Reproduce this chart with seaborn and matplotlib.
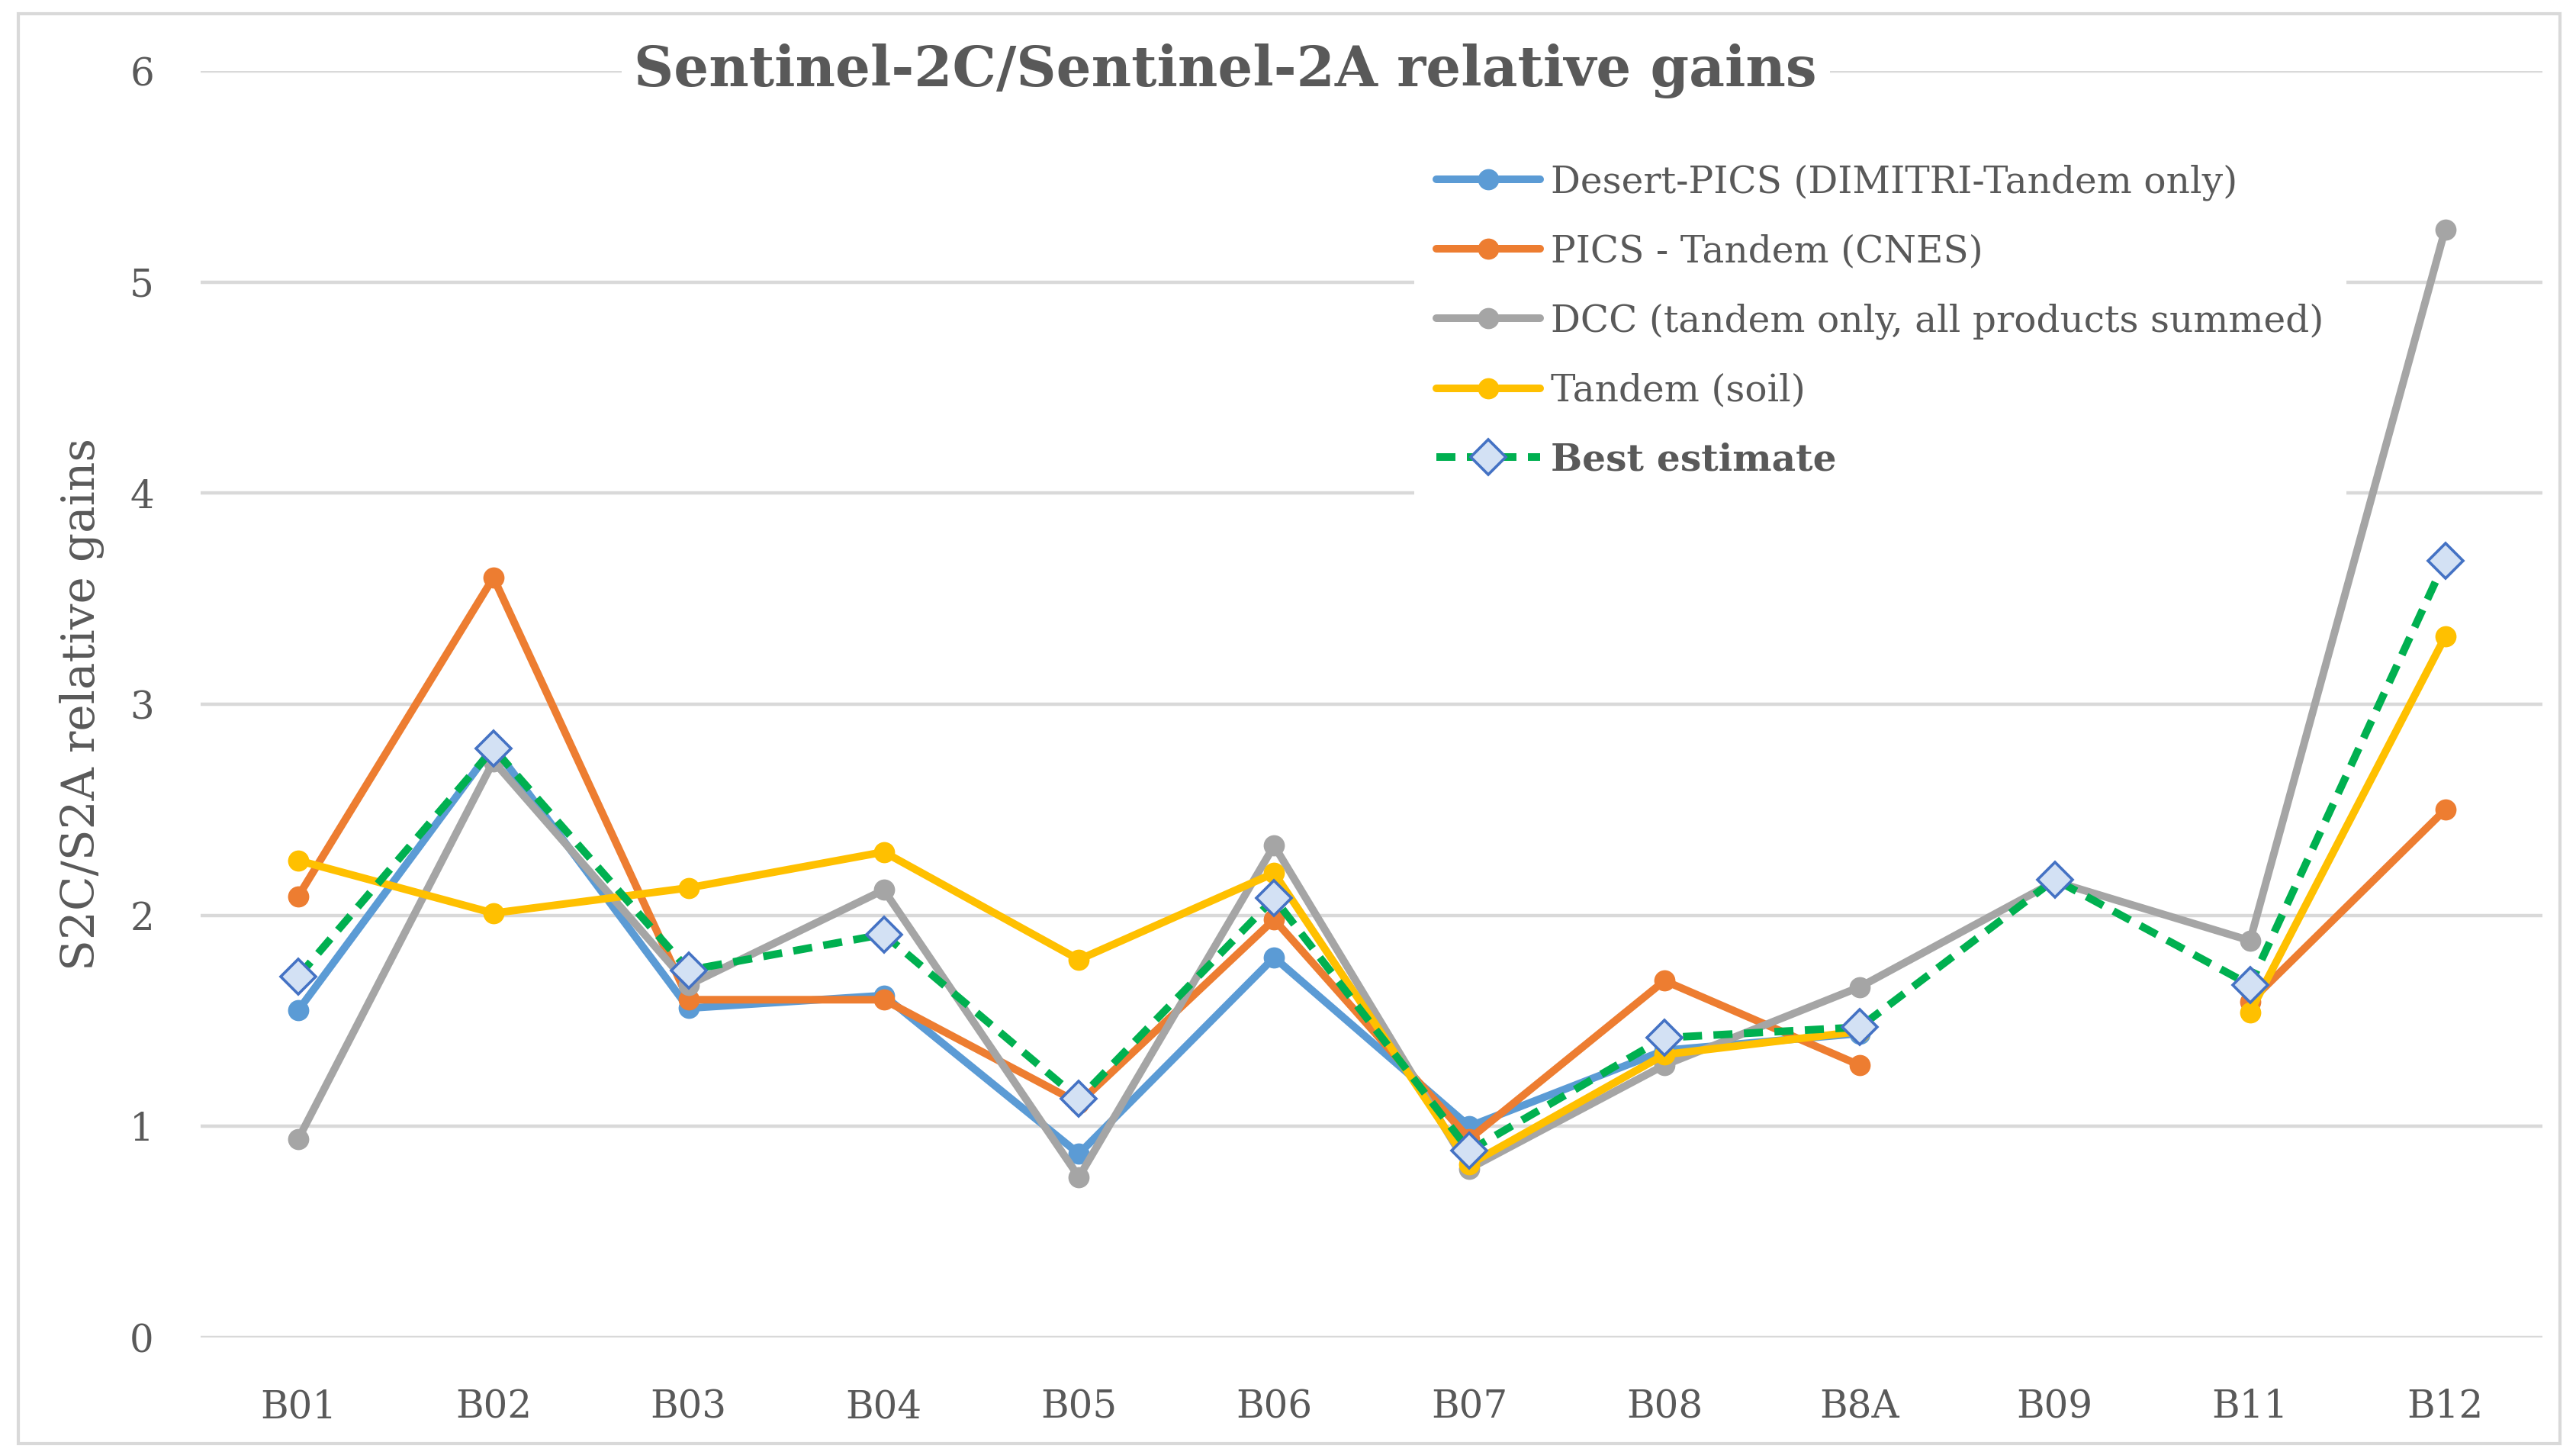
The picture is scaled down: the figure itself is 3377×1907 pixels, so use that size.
import numpy as np
import pandas as pd
import matplotlib
matplotlib.use("Agg")
import matplotlib.pyplot as plt
import seaborn as sns
from matplotlib.patches import Rectangle

# ---------------- data ----------------
bands = ["B01", "B02", "B03", "B04", "B05", "B06", "B07", "B08", "B8A", "B09", "B11", "B12"]
desert_pics = [1.55, 2.80, 1.56, 1.62, 0.87, 1.80, 1.00, 1.36, 1.44, np.nan, np.nan, np.nan]
pics_cnes = [2.09, 3.60, 1.60, 1.60, 1.11, 1.98, 0.94, 1.69, 1.29, np.nan, 1.59, 2.50]
dcc = [0.94, 2.73, 1.67, 2.12, 0.76, 2.33, 0.80, 1.29, 1.66, 2.16, 1.88, 5.25]
tandem_soil = [2.26, 2.01, 2.13, 2.30, 1.79, 2.20, 0.82, 1.34, 1.45, np.nan, 1.54, 3.32]
best_estimate = [1.71, 2.79, 1.74, 1.91, 1.13, 2.08, 0.885, 1.42, 1.47, 2.17, 1.67, 3.68]

series_names = ["Desert-PICS (DIMITRI-Tandem only)", "PICS - Tandem (CNES)",
                "DCC (tandem only, all products summed)", "Tandem (soil)", "Best estimate"]
series_values = [desert_pics, pics_cnes, dcc, tandem_soil, best_estimate]
series_colors = ["#5B9BD5", "#ED7D31", "#A5A5A5", "#FFC000", "#00B050"]

title = "Sentinel-2C/Sentinel-2A relative gains"
ylabel = "S2C/S2A relative gains"

# ---------------- style ----------------
sns.set_theme(style="white")
plt.rcParams["font.family"] = ["DejaVu Serif", "DejaVu Sans"]
text_color = "#595959"
grid_color = "#D9D9D9"

fig = plt.figure(figsize=(3377 / 200, 1907 / 200), dpi=200)
ax = fig.add_axes([0.0779, 0.0808, 0.9092, 0.8704])

# outer chart border
fig.patches.append(Rectangle((0.007, 0.008), 0.9868, 0.9826, transform=fig.transFigure,
                             fill=False, edgecolor="#D9D9D9", linewidth=1.5, zorder=0))

x_idx = np.arange(len(bands))

def segments(vals):
    vals = np.asarray(vals, dtype=float)
    runs, cur = [], []
    for i, v in enumerate(vals):
        if np.isnan(v):
            if cur:
                runs.append(cur)
            cur = []
        else:
            cur.append(i)
    if cur:
        runs.append(cur)
    return [(x_idx[r], vals[r]) for r in runs]

for k, (name, vals, col) in enumerate(zip(series_names, series_values, series_colors)):
    is_best = name == "Best estimate"
    for j, (xs, ys) in enumerate(segments(vals)):
        df = pd.DataFrame({"x": xs, "y": ys})
        kw = dict(color=col, linewidth=3.6, zorder=3 + k, clip_on=False)
        if is_best:
            kw.update(marker="D", markersize=11.5, markerfacecolor="#D3E1F4",
                      markeredgecolor="#4472C4", markeredgewidth=1.3,
                      dashes=(2.5, 1.5))
        else:
            kw.update(marker="o", markersize=10, markeredgewidth=0,
                      markerfacecolor=col)
        sns.lineplot(data=df, x="x", y="y", ax=ax, label=name if j == 0 else None,
                     legend=False, **kw)

ax.set_xlim(-0.5, len(bands) - 0.5)
ax.set_ylim(0, 6)
ax.set_yticks(range(0, 7))
ax.set_xticks(x_idx)
ax.set_xticklabels(bands)
ax.grid(axis="y", color=grid_color, linewidth=1.6)
ax.grid(axis="x", visible=False)
ax.set_axisbelow(True)
for s in ax.spines.values():
    s.set_visible(False)
ax.tick_params(axis="both", length=0, labelsize=18, labelcolor=text_color)
ax.tick_params(axis="y", pad=22)
ax.tick_params(axis="x", pad=24)
ax.set_xlabel("")
ax.set_ylabel(ylabel, fontsize=21.5, color=text_color)
ax.yaxis.set_label_coords(-0.041, 0.5)

ax.text(0.4376, 1.0, title, transform=ax.transAxes, ha="center", va="center",
        fontsize=26, fontweight="bold", color=text_color, zorder=10,
        bbox=dict(facecolor="white", edgecolor="none", pad=6))

handles, labels = ax.get_legend_handles_labels()
leg = ax.legend(handles, labels, loc="upper left", bbox_to_anchor=(0.518, 0.944),
                borderaxespad=0, frameon=True, fancybox=False, fontsize=17.5,
                handlelength=2.8, handletextpad=0.3, labelspacing=0.9,
                borderpad=0.6)
leg.get_frame().set_facecolor("white")
leg.get_frame().set_edgecolor("none")
leg.get_frame().set_alpha(1)
leg.set_zorder(20)
for t in leg.get_texts():
    t.set_color(text_color)
    if t.get_text() == "Best estimate":
        t.set_fontweight("bold")

fig.savefig("out.png", dpi=200, facecolor="white")
